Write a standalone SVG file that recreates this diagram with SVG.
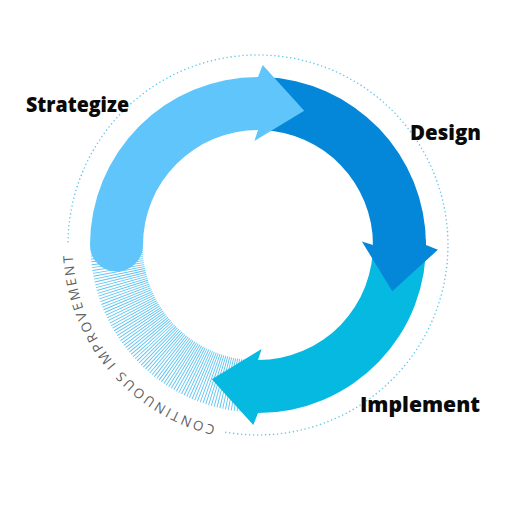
<svg xmlns="http://www.w3.org/2000/svg" width="508" height="508" viewBox="0 0 508 508">
  <style>
    .label { font-family: "Open Sans", "Liberation Sans", sans-serif; font-weight: 800; font-size: 21px; fill: #0a0a0a; }
    .arc-text { font-family: "Open Sans", "Liberation Sans", sans-serif; font-weight: 400; font-size: 13.5px; fill: #5f5f5f; letter-spacing: 2.4px; }
    .dots { fill: none; stroke: #62c9ec; stroke-width: 1.6; stroke-linecap: round; stroke-dasharray: 0 4; }
    .hatch { fill: none; stroke: #5cc3f0; stroke-width: 52; stroke-dasharray: 0.9 1.57; }
  </style>
  <defs>
    <path id="textArc" d="M 258 430.5 A 185.5 185.5 0 0 1 83.7 181.6"/>
  </defs>
  <rect width="508" height="508" fill="#ffffff"/>

  <g id="backdrop">
    <path class="dots" d="M 68 241.7 A 190 190 0 1 1 225 432.1"/>
    <path class="hatch" d="M 258 386.5 A 141.5 141.5 0 0 1 116.5 245"/>
    <text class="arc-text"><textPath href="#textArc" startOffset="43">CONTINUOUS IMPROVEMENT</textPath></text>
  </g>

  <g id="connectors">
    <g id="implement-arrow">
      <path fill="#06b9e1" d="M 425.9 239.1 A 168 168 0 0 1 258 413 L 253.3 424.9 L 211.8 379.3 L 261.6 348.9 L 258 360 A 115 115 0 0 0 372.9 241"/>
    </g>
    <g id="design-arrow">
      <path fill="#0587d9" d="M 263.9 77.1 A 168 168 0 0 1 426 245 L 437.9 249.7 L 392.3 291.2 L 361.9 241.4 L 373 245 A 115 115 0 0 0 262 130.1 Z"/>
    </g>
    <g id="strategize-arrow">
      <path fill="#60c5fb" d="M 90 245 A 168 168 0 0 1 258 77 L 262.7 65.1 L 304.2 110.7 L 254.4 141.1 L 258 130 A 115 115 0 0 0 143 245 A 26.5 26.5 0 0 1 90 245 Z"/>
    </g>
  </g>

  <g id="node-strategize">
    <text class="label" x="26" y="112" textLength="103" lengthAdjust="spacingAndGlyphs">Strategize</text>
  </g>
  <g id="node-design">
    <text class="label" x="410" y="140" textLength="71" lengthAdjust="spacingAndGlyphs">Design</text>
  </g>
  <g id="node-implement">
    <text class="label" x="360" y="412" textLength="120" lengthAdjust="spacingAndGlyphs">Implement</text>
  </g>
</svg>
